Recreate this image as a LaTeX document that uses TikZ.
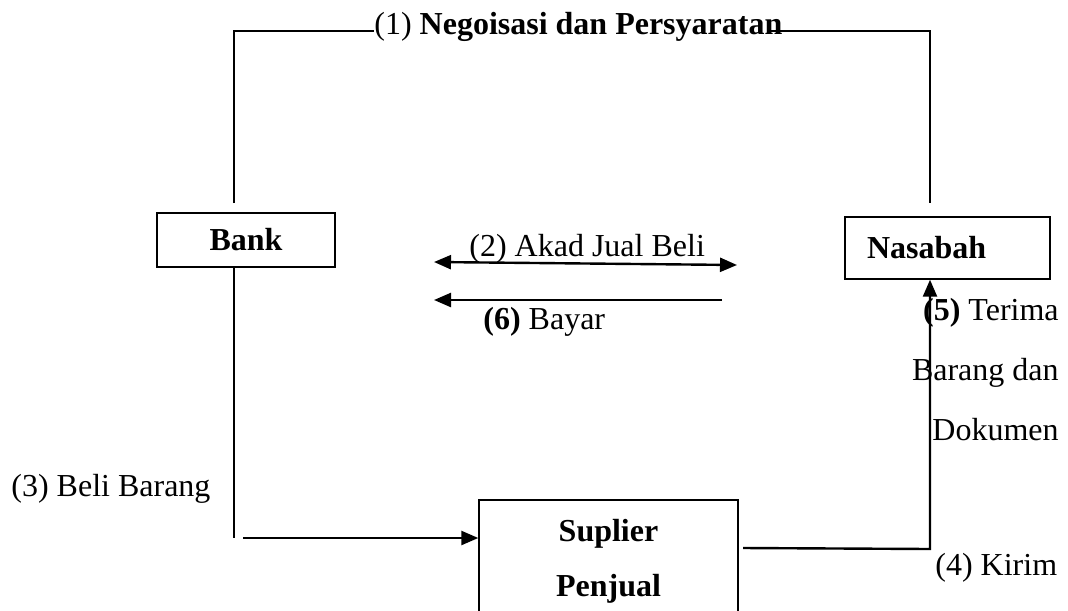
\documentclass[tikz,border=0pt]{standalone}
\usepackage{fontspec}
\setmainfont{Liberation Serif}
\usetikzlibrary{arrows.meta}
\begin{document}
\begin{tikzpicture}[x=0.5pt,y=-0.5pt,
  every node/.style={font=\fontsize{16}{19}\selectfont},
  box/.style={draw, line width=0.7pt, inner sep=0pt, font=\fontsize{16}{19}\selectfont\bfseries},
  conn/.style={line width=0.85pt},
  arr/.style={line width=1.2pt, -{Triangle[length=8.5pt,width=7pt]}},
  dblarr/.style={line width=1.2pt, {Triangle[length=8.5pt,width=7pt]}-{Triangle[length=8.5pt,width=7pt]}},
  lbl/.style={inner sep=0pt}]
\clip (0,0) rectangle (1068,610);
% boxes
\node[box, minimum width=89pt, minimum height=27pt] (bank) at (246,240) {Bank};
\node[box, minimum height=31pt, inner xsep=11pt, text width=80.5pt, align=left] (nas) at (947.5,248) {Nasabah};
\node[box, minimum width=129.5pt, minimum height=61pt, align=center,
      font=\fontsize{16}{27.5}\selectfont\bfseries] (sup) at (608.5,561) {Suplier\\Penjual};
% labels
\node[lbl, anchor=base west] (l1) at (374,35) {(1) \textbf{Negoisasi dan Persyaratan}};
\node[lbl, anchor=base west] (l2) at (469,256) {(2) Akad Jual Beli};
\node[lbl, anchor=base west] (l6) at (483,329) {\textbf{(6)} Bayar};
\node[lbl, anchor=base west] (l3) at (11,496) {(3) Beli Barang};
\node[lbl, anchor=base east, align=right, font=\fontsize{16}{30}\selectfont] (l5) at (1059,440) {\textbf{(5)} Terima\\Barang dan\\Dokumen};
\node[lbl, anchor=base west] (l4) at (935,575) {(4) Kirim};
% coordinates
\coordinate (tl) at (234,31);
\coordinate (tr) at (930,31);
\coordinate (bt) at (234,203);
\coordinate (nt) at (930,203);
\coordinate (bb) at (234,538);
\coordinate (bs) at (243,538);
\coordinate (ss) at (743,548);
\coordinate (sk) at (930,549);
\coordinate (al) at (434,262);
\coordinate (ar) at (737,265);
\coordinate (bl) at (434,300);
\coordinate (br) at (722,300);
% connectors
\draw[conn] (bt) -- (tl) -- (tl -| l1.west);
\draw[conn] ([xshift=-7pt]tr -| l1.east) -- (tr) -- (nt);
\draw[conn] (bank.south -| bb) -- (bb);
\draw[arr] (bs) -- (bs -| sup.west);
\draw[arr] (ss) -- (sk) -- (sk |- nas.south);
\draw[dblarr] (al) -- (ar);
\draw[arr] (br) -- (bl);
\end{tikzpicture}
\end{document}
